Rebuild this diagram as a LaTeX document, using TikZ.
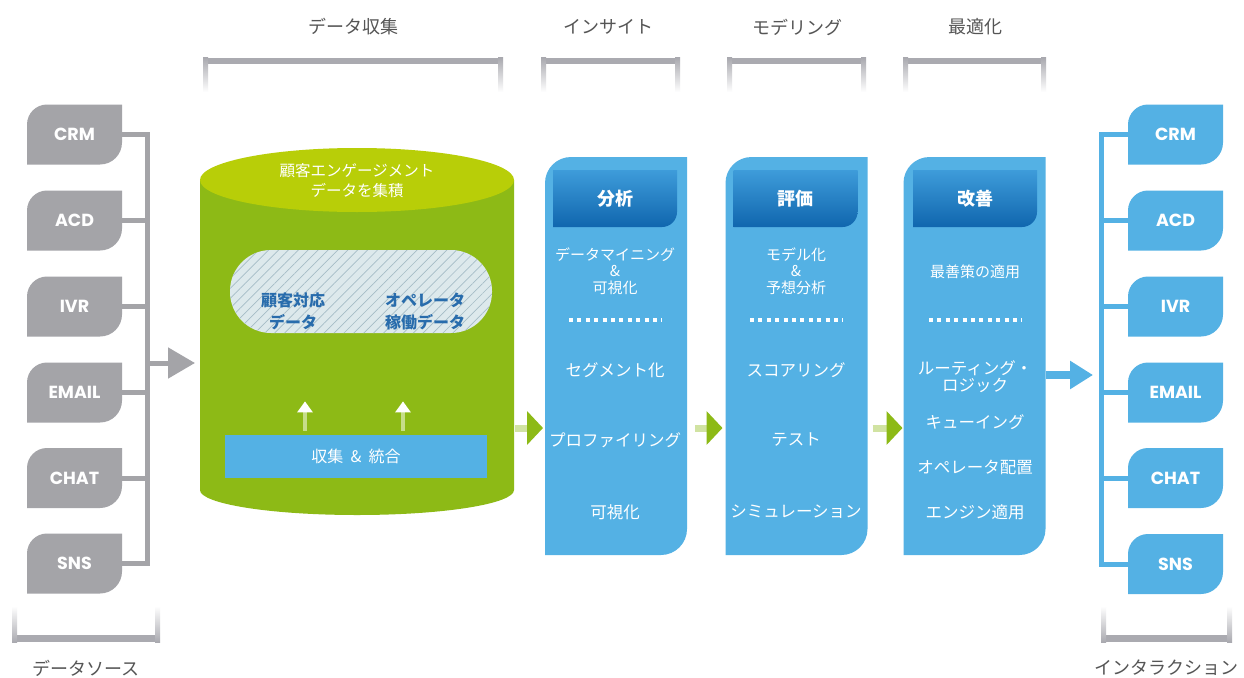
\documentclass[tikz,border=0pt]{standalone}
\usepackage{fontspec}
\setmainfont{Noto Sans CJK JP}
\newfontfamily\pop{Poppins}
\usetikzlibrary{arrows.meta,patterns.meta,calc}
\definecolor{srcgray}{RGB}{164,164,168}
\definecolor{skyb}{RGB}{84,177,228}
\definecolor{lime}{RGB}{141,186,22}
\definecolor{limetop}{RGB}{184,206,8}
\definecolor{hdrtop}{RGB}{62,156,218}
\definecolor{hdrbot}{RGB}{16,102,174}
\definecolor{lblgray}{RGB}{85,85,85}
\definecolor{brgray}{RGB}{170,170,176}
\definecolor{poolfill}{RGB}{221,233,236}
\definecolor{poolhatch}{RGB}{165,188,198}
\definecolor{pooltext}{RGB}{40,108,172}
\tikzset{
  tabshape/.style n args={3}{path picture={\fill[#1] (path picture bounding box.south west) -- ([yshift=-#2]path picture bounding box.north west) arc[start angle=180,end angle=90,radius=#2] -- (path picture bounding box.north east) -- ([yshift=#3]path picture bounding box.south east) arc[start angle=0,end angle=-90,radius=#3] -- cycle;}},
  srcbox/.style={minimum width=95pt,minimum height=60pt,inner sep=0pt,outer sep=0pt,text=white,font=\pop\bfseries\fontsize{17.5}{20}\selectfont,tabshape={#1}{20pt}{22pt}},
  colbox/.style={minimum width=142pt,minimum height=398pt,inner sep=0pt,outer sep=0pt,tabshape={skyb}{26pt}{26pt}},
  hdr/.style={minimum width=124pt,minimum height=57pt,inner sep=0pt,outer sep=0pt,text=white,font=\bfseries\fontsize{18}{20}\selectfont,
    path picture={\shade[top color=hdrtop,bottom color=hdrbot] (path picture bounding box.north west) -- (path picture bounding box.north east) -- ([yshift=15pt]path picture bounding box.south east) arc[start angle=0,end angle=-90,radius=15pt] -- (path picture bounding box.south west) -- cycle;}},
  item/.style={text=white,inner sep=0pt,align=center,font=\fontsize{16.5}{17}\selectfont},
  smallitem/.style={text=white,inner sep=0pt,align=center,font=\fontsize{15}{16.5}\selectfont},
  dots/.style={white,line width=4pt,dash pattern=on 4pt off 4.4pt},
  gline/.style={srcgray,line width=5pt,line cap=rect},
  bline/.style={skyb,line width=5pt,line cap=rect},
  greenarrow/.style={white!60!lime,line width=7pt,-{Triangle[length=16pt,width=33pt,color=lime]}},
  uparrow/.style={white!50!lime,line width=4pt,-{Triangle[length=11pt,width=15pt,color=white]}},
  pooltxt/.style={text=pooltext,inner sep=0pt,align=center,font=\bfseries\fontsize{16}{22}\selectfont},
  lbl/.style={text=lblgray,inner sep=0pt,font=\fontsize{18}{20}\selectfont},
}
\newcommand\mytopbr[2]{%
  \fill[brgray] (#1,58) rectangle (#2,64);
  \shade[top color=brgray,bottom color=white] (#1,58) rectangle (#1+5,92);
  \shade[top color=brgray,bottom color=white] (#2-5,58) rectangle (#2,92);
}
\newcommand\mybotbr[2]{%
  \fill[brgray] (#1,635) rectangle (#2,642);
  \shade[top color=white,bottom color=brgray] (#1,606) rectangle (#1+5,642);
  \shade[top color=white,bottom color=brgray] (#2-5,606) rectangle (#2,642);
}
\begin{document}
\begin{tikzpicture}[x=1pt,y=-1pt]
\useasboundingbox (0,0) rectangle (1244,677);
\fill[white] (0,0) rectangle (1244,677);

% brackets and labels
\mytopbr{203}{503}
\mytopbr{541}{680}
\mytopbr{727}{866}
\mytopbr{903}{1046}
\mybotbr{12}{160}
\mybotbr{1101}{1232}
\node[lbl] (ldc) at (353,27) {データ収集};
\node[lbl] (lin) at (608,27) {インサイト};
\node[lbl] (lmo) at (797,27) {モデリング};
\node[lbl] (lop) at (975,27) {最適化};
\node[lbl] (lds) at (86,668) {データソース};
\node[lbl] (lia) at (1166,668) {インタラクション};

% left sources
\node[srcbox=srcgray] (s1) at (74.5,134.5) {CRM};
\node[srcbox=srcgray] (s2) at (74.5,220.5) {ACD};
\node[srcbox=srcgray] (s3) at (74.5,306.5) {IVR};
\node[srcbox=srcgray] (s4) at (74.5,392.5) {EMAIL};
\node[srcbox=srcgray] (s5) at (74.5,478) {CHAT};
\node[srcbox=srcgray] (s6) at (74.5,563.5) {SNS};
\coordinate (lb1) at (147,134.5);
\coordinate (lb6) at (147,563.5);
\coordinate (la) at (147,363);
\foreach \n in {s1,s2,s3,s4,s5,s6} \draw[gline] (\n.east) -- (\n.east -| lb1);
\draw[gline] (lb1) -- (lb6);

% cylinder
\fill[lime] (200,180) -- (200,490) arc[start angle=180,end angle=0,x radius=157,y radius=25] -- (514,180) -- cycle;
\fill[limetop] (357,180) ellipse[x radius=157,y radius=32];
\node[minimum width=314pt,minimum height=330pt,inner sep=0pt,outer sep=0pt] (cyl) at (357,330) {};
\node[text=white,inner sep=0pt,align=center,font=\fontsize{15.5}{20}\selectfont] (cyltop) at (357,181) {顧客エンゲージメント\\データを集積};
\draw[gline,line cap=butt,-{Triangle[length=27pt,width=30pt]}] (la) -- (cyl.west |- la) [shorten >=5pt];

\node[minimum width=262pt,minimum height=83pt,inner sep=0pt,rounded corners=41pt,
  preaction={fill=poolfill},pattern={Lines[angle=45,distance=7pt,line width=0.7pt]},pattern color=poolhatch] (pool) at (361,291.5) {};
\node[pooltxt] (p1) at (293,311) {顧客対応\\データ};
\node[pooltxt] (p2) at (425,311) {オペレータ\\稼働データ};

\node[fill=skyb,minimum width=262pt,minimum height=43pt,inner sep=0pt,text=white,font=\fontsize{16}{18}\selectfont] (coll) at (356,456.5) {収集\hspace{0.45em}\&\hspace{0.45em}統合};
\coordinate (ax1) at (305,0);
\coordinate (ax2) at (403,0);
\draw[uparrow] ([yshift=4pt]coll.north -| ax1) -- ([yshift=-68pt]pool.south -| ax1);
\draw[uparrow] ([yshift=4pt]coll.north -| ax2) -- ([yshift=-68pt]pool.south -| ax2);

% columns
\node[colbox] (c1) at (616,356) {};
\node[colbox] (c2) at (796.5,356) {};
\node[colbox] (c3) at (974.5,356) {};
\node[hdr] (h1) at (615,198.5) {分析};
\node[hdr] (h2) at (795.5,198.5) {評価};
\node[hdr] (h3) at (975,198.5) {改善};

\node[smallitem] (a1) at (615,271) {データマイニング\\\&\\可視化};
\draw[dots] (569,320) -- (662,320);
\node[item] (a2) at (615,370) {セグメント化};
\node[item] (a3) at (615,440) {プロファイリング};
\node[item] (a4) at (615,512) {可視化};

\node[smallitem] (b1) at (796,271) {モデル化\\\&\\予想分析};
\draw[dots] (750,320) -- (843,320);
\node[item] (b2) at (796,370) {スコアリング};
\node[item] (b3) at (796,440) {テスト};
\node[item] (b4) at (796,512) {シミュレーション};

\node[smallitem] (d1) at (975,272) {最善策の適用};
\draw[dots] (929,320) -- (1022,320);
\node[item] (d2) at (975,376.5) {ルーティング・\\ロジック};
\node[item] (d3) at (975,422) {キューイング};
\node[item] (d4) at (975,467) {オペレータ配置};
\node[item] (d5) at (975,512) {エンジン適用};

% green arrows
\coordinate (gy) at (0,428);
\draw[greenarrow] ([xshift=1pt]cyl.east |- gy) -- (c1.west |- gy) [shorten >=2pt];
\draw[greenarrow] ([xshift=8pt]c1.east |- gy) -- (c2.west |- gy) [shorten >=3pt];
\draw[greenarrow] ([xshift=5pt]c2.east |- gy) -- (c3.west |- gy) [shorten >=1pt];

% right interactions
\node[srcbox=skyb] (t1) at (1175.5,134.5) {CRM};
\node[srcbox=skyb] (t2) at (1175.5,220.5) {ACD};
\node[srcbox=skyb] (t3) at (1175.5,306.5) {IVR};
\node[srcbox=skyb] (t4) at (1175.5,392.5) {EMAIL};
\node[srcbox=skyb] (t5) at (1175.5,478) {CHAT};
\node[srcbox=skyb] (t6) at (1175.5,564) {SNS};
\coordinate (rb1) at (1101,134.5);
\coordinate (rb6) at (1101,564);
\coordinate (ba) at (0,375);
\foreach \n in {t1,t2,t3,t4,t5,t6} \draw[bline] (\n.west) -- (\n.west -| rb1);
\draw[bline] (rb1) -- (rb6);
\draw[skyb,line width=8pt,-{Triangle[length=23pt,width=27pt]}] (c3.east |- ba) -- (rb1 |- ba) [shorten >=8pt];
\end{tikzpicture}
\end{document}
